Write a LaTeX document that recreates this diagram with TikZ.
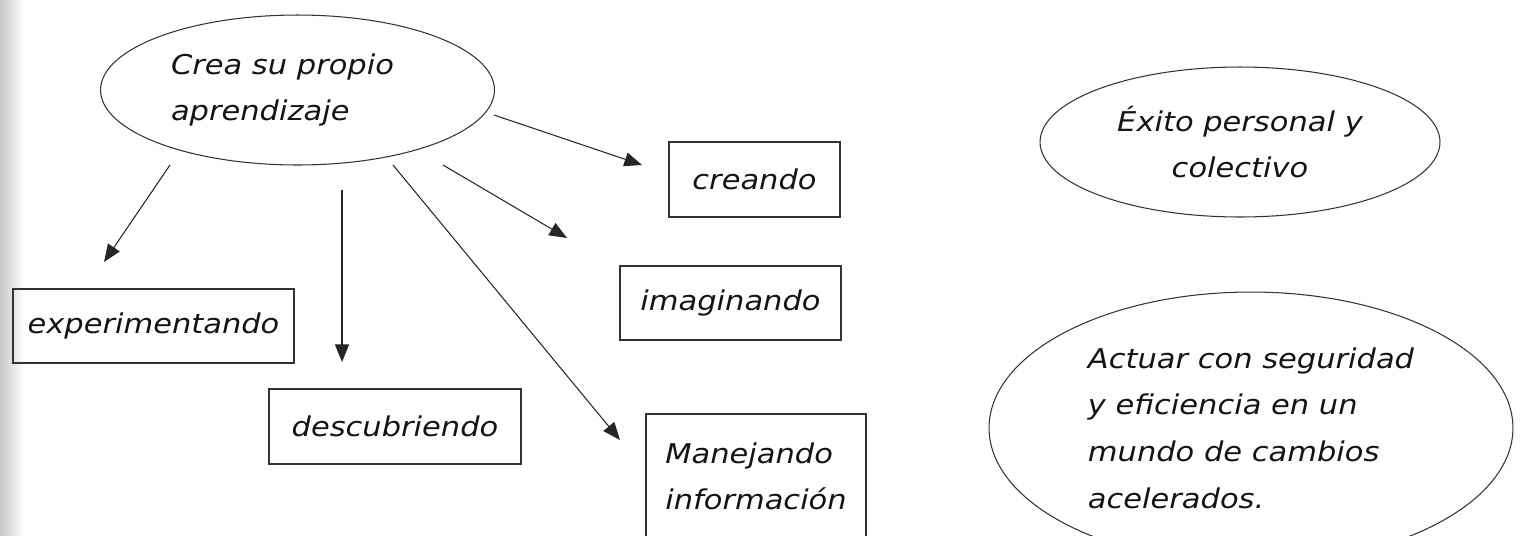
\documentclass[tikz,border=0pt]{standalone}
\usepackage{fontspec}
\newfontfamily\handfont{DejaVu Sans}[FakeStretch=1.12]
\usetikzlibrary{arrows.meta}
\usetikzlibrary{shapes.geometric}

\begin{document}
\begin{tikzpicture}[x=0.02cm,y=-0.02cm,
    every node/.style={black!92,font=\handfont\itshape\fontsize{15.5}{26.5}\selectfont},
    bubble/.style={draw=black!80,ellipse,line width=0.6pt,inner sep=0pt},
    wordbox/.style={draw=black!80,rectangle,line width=0.8pt,inner sep=0pt},
    arr/.style={draw=black!85,line width=0.6pt,-{Triangle[length=10pt,width=8pt]}}]
    \useasboundingbox (0,0) rectangle (1524,535);
    \clip (0,0) rectangle (1524,535);
    \shade[left color=black!22,right color=white] (0,0) rectangle (24,535);

    \node[bubble,minimum width=7.88cm,minimum height=3cm,align=left] (crea) at (297.5,90)
        {Crea su propio\hspace*{0.6cm}\\aprendizaje};
    \node[bubble,minimum width=8cm,minimum height=3cm,align=center] (exito) at (1240,142)
        {Éxito personal y\\colectivo};
    \node[bubble,minimum width=10.48cm,minimum height=5.44cm,align=left] (actuar) at (1251,428)
        {Actuar con seguridad\\y eficiencia en un\\mundo de cambios\\acelerados.};

    \node[wordbox,minimum width=5.62cm,minimum height=1.48cm] (exper) at (153.5,326) {experimentando};
    \node[wordbox,minimum width=3.42cm,minimum height=1.5cm] (crean) at (754.5,179.5) {creando};
    \node[wordbox,minimum width=4.42cm,minimum height=1.48cm] (imagi) at (730.5,303) {imaginando};
    \node[wordbox,minimum width=5.04cm,minimum height=1.5cm] (descu) at (395,426.5) {descubriendo};
    \node[wordbox,minimum width=4.4cm,minimum height=2.5cm,align=left] (manej) at (756,476.5)
        {Manejando\\información};

    % free ends of the arrows
    \coordinate (exS) at (170,165);  \coordinate (exE) at (104,262);
    \coordinate (deS) at (342,190);  \coordinate (deE) at (342,362);
    \coordinate (maS) at (393,165);  \coordinate (maE) at (620,440);
    \coordinate (imS) at (443,165);  \coordinate (imE) at (567,238);
    \coordinate (crS) at (494,115);  \coordinate (crE) at (642,165);

    \draw[arr] (exS) -- (exE);
    \draw[arr] (deS) -- (deE);
    \draw[arr] (maS) -- (maE);
    \draw[arr] (imS) -- (imE);
    \draw[arr] (crS) -- (crE);
\end{tikzpicture}
\end{document}
